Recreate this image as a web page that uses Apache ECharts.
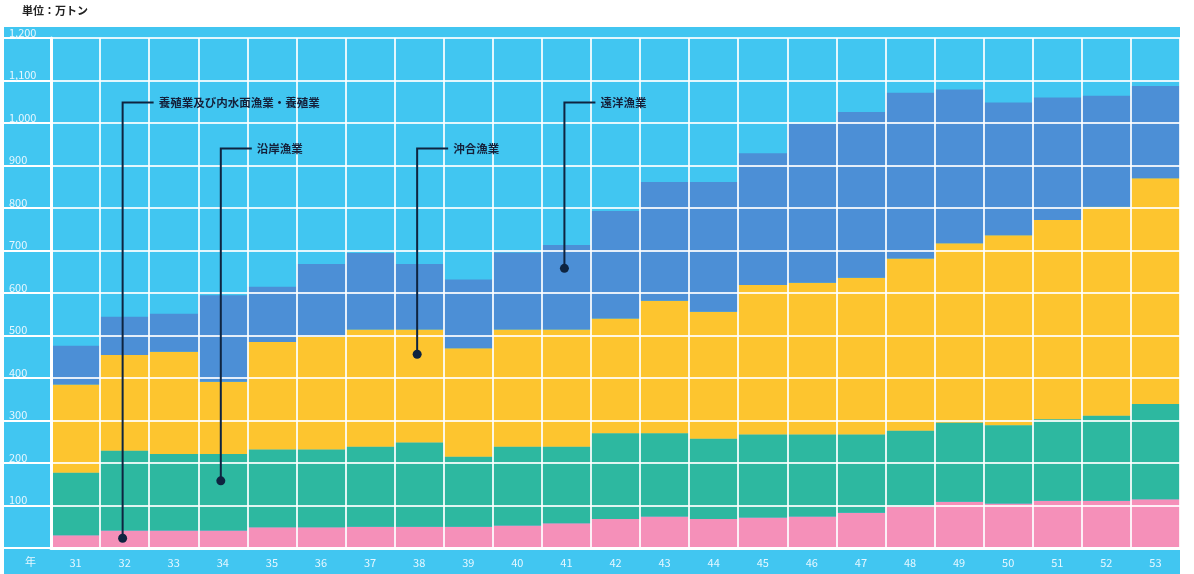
<!DOCTYPE html>
<html>
<head>
<meta charset="utf-8">
<script src="https://cdn.jsdelivr.net/npm/echarts@6/dist/echarts.min.js"></script>
<style>
  html, body { margin: 0; padding: 0; background: #fff; }
  #main { width: 1194px; height: 574px; }
</style>
</head>
<body>
<div id="main"></div>
<script>
// 昭和31〜53年
var years = ['31', '32', '33', '34', '35', '36', '37', '38', '39', '40', '41', '42',
  '43', '44', '45', '46', '47', '48', '49', '50', '51', '52', '53'];

// 単位：万トン
var yoshoku = [30, 41, 41, 41, 49, 49, 50, 50, 50, 53, 58, 68, 74, 68, 72, 74, 83, 97, 109, 105, 111, 111, 115];
var engan = [147, 188, 180, 180, 183, 183, 188, 198, 165, 185, 180, 202, 196, 189, 195, 193, 184, 179, 186, 184, 192, 200, 224];
var okiai = [208, 225, 241, 170, 253, 265, 276, 266, 255, 276, 276, 270, 312, 299, 352, 357, 369, 405, 422, 447, 469, 492, 531];
var enyo = [91, 90, 89, 204, 130, 171, 180, 154, 162, 181, 199, 253, 279, 305, 310, 374, 390, 390, 362, 312, 288, 261, 217];

var yLabels = ['', '100', '200', '300', '400', '500', '600', '700', '800', '900', '1,000', '1,100', '1,200'];

// 注記：文字、点を置く年と値、引き出し線の高さ
var notes = [
  { text: '養殖業及び内水面漁業・養殖業', year: '32', dot: 23, top: 1048 },
  { text: '沿岸漁業', year: '34', dot: 158, top: 940 },
  { text: '沖合漁業', year: '38', dot: 456, top: 940 },
  { text: '遠洋漁業', year: '41', dot: 658, top: 1048 }
];

var chart = echarts.init(document.getElementById('main'));
var font = '"Noto Sans CJK JP", "Noto Sans", sans-serif';
var gridLine = 'rgba(255,255,255,0.85)';

function bar(name, data, color) {
  return {
    name: name,
    type: 'bar',
    stack: 'total',
    data: data,
    barCategoryGap: 0,
    itemStyle: { color: color },
    silent: true
  };
}

var option = {
  animation: false,
  textStyle: { fontFamily: font },
  graphic: [
    { type: 'rect', z: -10, shape: { x: 4, y: 27, width: 1176, height: 547 }, style: { fill: '#41c6f1' } },
    { type: 'text', left: 22, top: 5, style: { text: '単位：万トン', font: 'bold 11px ' + font, fill: '#222' } },
    { type: 'text', left: 25, top: 556, style: { text: '年', font: '11px ' + font, fill: '#e6f7ff' } }
  ],
  grid: { left: 51, right: 14, top: 38, bottom: 26 },
  xAxis: {
    type: 'category',
    data: years,
    z: 5,
    axisLine: { lineStyle: { color: '#fff', width: 3 } },
    axisTick: { length: 26, lineStyle: { color: '#fff', width: 2 } },
    axisLabel: { color: '#e6f7ff', fontSize: 11, margin: 9 },
    splitLine: { show: true, lineStyle: { color: gridLine, width: 2 } }
  },
  yAxis: {
    type: 'value',
    min: 0,
    max: 1200,
    interval: 100,
    z: 5,
    axisLine: { show: true, lineStyle: { color: '#fff', width: 3 } },
    axisTick: { show: true, length: 47, lineStyle: { color: '#fff', width: 2 } },
    axisLabel: {
      color: '#e6f7ff',
      fontSize: 11,
      align: 'left',
      verticalAlign: 'bottom',
      margin: 42,
      formatter: function (v) { return yLabels[Math.round(v / 100)]; }
    },
    splitLine: { lineStyle: { color: gridLine, width: 2 } }
  },
  series: [
    bar('養殖業及び内水面漁業・養殖業', yoshoku, '#f590b9'),
    bar('沿岸漁業', engan, '#2db8a0'),
    bar('沖合漁業', okiai, '#fdc52f'),
    bar('遠洋漁業', enyo, '#4c8fd6')
  ]
};

chart.setOption(option);

// 引き出し線と注記は軸の座標から置く
var extra = [];
notes.forEach(function (n) {
  var p0 = chart.convertToPixel({ seriesIndex: 0 }, [n.year, n.dot]);
  var p1 = chart.convertToPixel({ seriesIndex: 0 }, [n.year, n.top]);
  var x = p0[0] - 2;
  extra.push({
    type: 'polyline', z: 20,
    shape: { points: [[x, p0[1]], [x, p1[1]], [x + 31, p1[1]]] },
    style: { stroke: '#0e2440', lineWidth: 2, fill: null }
  });
  extra.push({
    type: 'circle', z: 21,
    shape: { cx: x, cy: p0[1], r: 4.5 },
    style: { fill: '#0e2440' }
  });
  extra.push({
    type: 'text', z: 21,
    x: x + 36, y: p1[1],
    style: { text: n.text, font: 'bold 11.5px ' + font, fill: '#14203a', verticalAlign: 'middle' }
  });
});

chart.setOption({ graphic: option.graphic.concat(extra) });
</script>
</body>
</html>
